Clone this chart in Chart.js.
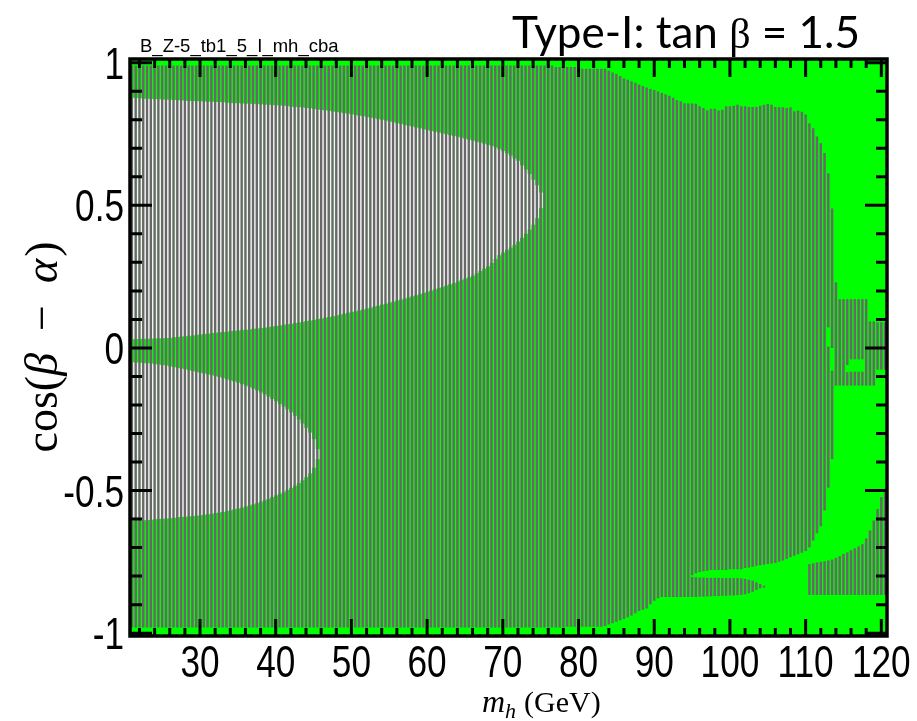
<!DOCTYPE html>
<html>
<head>
<meta charset="utf-8">
<script src="https://cdn.jsdelivr.net/npm/chart.js@4.4.1/dist/chart.umd.min.js"></script>
<style>
  html, body { margin: 0; padding: 0; background: #fff; }
</style>
</head>
<body>
<canvas id="myChart" width="917" height="721"></canvas>
<script>
// mass points (GeV), one bin every 0.5 GeV
const massPoints = [
  21, 21.5, 22, 22.5, 23, 23.5, 24, 24.5, 25, 25.5,
  26, 26.5, 27, 27.5, 28, 28.5, 29, 29.5, 30, 30.5,
  31, 31.5, 32, 32.5, 33, 33.5, 34, 34.5, 35, 35.5,
  36, 36.5, 37, 37.5, 38, 38.5, 39, 39.5, 40, 40.5,
  41, 41.5, 42, 42.5, 43, 43.5, 44, 44.5, 45, 45.5,
  46, 46.5, 47, 47.5, 48, 48.5, 49, 49.5, 50, 50.5,
  51, 51.5, 52, 52.5, 53, 53.5, 54, 54.5, 55, 55.5,
  56, 56.5, 57, 57.5, 58, 58.5, 59, 59.5, 60, 60.5,
  61, 61.5, 62, 62.5, 63, 63.5, 64, 64.5, 65, 65.5,
  66, 66.5, 67, 67.5, 68, 68.5, 69, 69.5, 70, 70.5,
  71, 71.5, 72, 72.5, 73, 73.5, 74, 74.5, 75, 75.5,
  76, 76.5, 77, 77.5, 78, 78.5, 79, 79.5, 80, 80.5,
  81, 81.5, 82, 82.5, 83, 83.5, 84, 84.5, 85, 85.5,
  86, 86.5, 87, 87.5, 88, 88.5, 89, 89.5, 90, 90.5,
  91, 91.5, 92, 92.5, 93, 93.5, 94, 94.5, 95, 95.5,
  96, 96.5, 97, 97.5, 98, 98.5, 99, 99.5, 100, 100.5,
  101, 101.5, 102, 102.5, 103, 103.5, 104, 104.5, 105, 105.5,
  106, 106.5, 107, 107.5, 108, 108.5, 109, 109.5, 110, 110.5,
  111, 111.5, 112, 112.5, 113, 113.5, 114, 114.5, 115, 115.5,
  116, 116.5, 117, 117.5, 118, 118.5, 119, 119.5, 120, 120.5
];

// main grey band: upper and lower edge of cos(beta-alpha) per mass bin
const grayTop = [
  .99, .99, .99, .99, .99, .99, .99, .99, .99, .99,
  .99, .99, .99, .99, .99, .99, .99, .99, .99, .99,
  .99, .99, .99, .99, .99, .99, .99, .99, .99, .99,
  .99, .99, .99, .99, .99, .99, .99, .99, .99, .99,
  .99, .99, .99, .99, .99, .99, .99, .99, .99, .99,
  .99, .99, .99, .99, .99, .99, .99, .99, .99, .99,
  .99, .99, .99, .99, .99, .99, .99, .99, .99, .99,
  .99, .99, .99, .99, .99, .99, .99, .99, .99, .99,
  .99, .99, .99, .99, .99, .99, .99, .99, .99, .99,
  .99, .99, .99, .99, .99, .99, .99, .99, .99, .99,
  .99, .99, .99, .99, .99, .99, .99, .99, .99, .99,
  .99, .99, .985, .985, .985, .985, .985, .985, .979, .979,
  .979, .979, .979, .979, .979, .979, .972, .966, .96, .953,
  .945, .94, .935, .93, .924, .918, .913, .908, .904, .899,
  .894, .889, .884, .877, .869, .865, .858, .857, .857, .856,
  .847, .841, .833, .839, .839, .832, .835, .847, .847, .849,
  .853, .847, .847, .845, .845, .845, .849, .853, .855, .853,
  .845, .844, .844, .841, .844, .83, .832, .828, .818, .788,
  .77, .741, .718, .683, .612, .489, .23, .171, .171, .171,
  .171, .171, .171, .171, .171, .093, .093, .09, .09, .09
];
const grayBottom = [
  -.98, -.98, -.98, -.98, -.98, -.98, -.98, -.98, -.98, -.98,
  -.98, -.98, -.98, -.98, -.98, -.98, -.98, -.98, -.98, -.98,
  -.98, -.98, -.98, -.98, -.98, -.98, -.98, -.98, -.98, -.98,
  -.98, -.98, -.98, -.98, -.98, -.98, -.98, -.98, -.98, -.98,
  -.98, -.98, -.98, -.98, -.98, -.98, -.98, -.98, -.98, -.98,
  -.98, -.98, -.98, -.98, -.98, -.98, -.98, -.98, -.98, -.98,
  -.98, -.98, -.98, -.98, -.98, -.98, -.98, -.98, -.98, -.98,
  -.98, -.98, -.98, -.98, -.98, -.98, -.98, -.98, -.98, -.98,
  -.98, -.98, -.98, -.98, -.98, -.98, -.98, -.98, -.98, -.98,
  -.98, -.98, -.98, -.98, -.98, -.98, -.98, -.98, -.98, -.98,
  -.98, -.98, -.98, -.98, -.98, -.98, -.98, -.98, -.98, -.98,
  -.98, -.98, -.98, -.98, -.98, -.978, -.978, -.978, -.978, -.978,
  -.978, -.978, -.978, -.978, -.978, -.975, -.97, -.965, -.96, -.955,
  -.95, -.944, -.938, -.93, -.922, -.918, -.914, -.899, -.886, -.878,
  -.873, -.873, -.873, -.873, -.873, -.873, -.873, -.873, -.797, -.79,
  -.786, -.783, -.781, -.779, -.779, -.779, -.779, -.779, -.776, -.776,
  -.776, -.776, -.772, -.77, -.767, -.764, -.762, -.76, -.758, -.756,
  -.754, -.75, -.745, -.74, -.734, -.729, -.723, -.718, -.712, -.70,
  -.675, -.65, -.625, -.57, .072, 0, -.132, -.132, -.132, -.06,
  -.04, -.04, -.04, -.04, -.132, -.132, -.132, -.076, -.076, -.076
];

// grey pieces split off the main band
const splitMass = [95, 95.5, 96, 96.5, 97, 97.5, 98, 98.5, 99, 99.5,
  100, 100.5, 101, 101.5, 102, 102.5, 103, 103.5, 104, 104.5,
  113, 113.5, 115.5, 116, 116.5, 117, 117.5];
const splitLo = [-.873, -.873, -.872, -.872, -.871, -.871, -.87, -.87, -.869, -.869,
  -.868, -.868, -.867, -.866, -.864, -.86, -.855, -.848, -.843, -.84,
  -.49, -.39, -.132, -.132, -.132, -.132, -.132];
const splitHi = [-.803, -.804, -.805, -.805, -.806, -.806, -.806, -.806, -.807, -.807,
  -.807, -.807, -.807, -.808, -.81, -.813, -.816, -.822, -.828, -.834,
  .005, -.08, -.085, -.083, -.083, -.083, -.083];

// grey block in the lower right corner
const lowMass = [110.5, 111, 111.5, 112, 112.5, 113, 113.5, 114, 114.5, 115,
  115.5, 116, 116.5, 117, 117.5, 118, 118.5, 119, 119.5, 120, 120.5];
const lowTop = [-.758, -.755, -.752, -.75, -.748, -.745, -.742, -.736, -.73, -.722,
  -.717, -.709, -.703, -.696, -.688, -.668, -.64, -.605, -.565, -.523, -.5];
const lowBottom = [-.866, -.866, -.866, -.866, -.866, -.866, -.866, -.866, -.866, -.866,
  -.866, -.866, -.866, -.866, -.866, -.866, -.866, -.866, -.866, -.866, -.866];

// regions without green (first bins of massPoints)
const whiteUpHi = [
  .877, .876, .875, .874, .874, .873, .872, .872, .871, .870,
  .870, .869, .868, .868, .867, .866, .866, .865, .865, .864,
  .863, .863, .862, .862, .861, .860, .859, .858, .858, .857,
  .856, .856, .855, .854, .854, .853, .853, .852, .851, .850,
  .849, .848, .846, .845, .844, .843, .841, .840, .838, .836,
  .834, .833, .831, .829, .827, .825, .823, .821, .819, .817,
  .814, .812, .810, .807, .805, .802, .800, .797, .794, .791,
  .788, .785, .782, .779, .776, .773, .770, .767, .764, .761,
  .758, .755, .752, .749, .746, .743, .740, .737, .733, .730,
  .727, .723, .720, .716, .712, .708, .703, .697, .690, .682,
  .674, .664, .656, .640, .625, .610, .590, .570, .545
];
const whiteUpLo = [
  .030, .031, .031, .032, .032, .033, .033, .034, .034, .035,
  .035, .037, .038, .040, .041, .043, .044, .046, .047, .049,
  .050, .052, .053, .055, .056, .057, .059, .060, .061, .063,
  .064, .065, .067, .068, .070, .071, .073, .075, .077, .079,
  .081, .083, .085, .087, .089, .091, .094, .096, .098, .101,
  .103, .106, .108, .111, .114, .117, .120, .123, .126, .129,
  .132, .135, .138, .141, .145, .148, .152, .155, .159, .162,
  .166, .170, .173, .177, .181, .185, .189, .193, .197, .201,
  .206, .210, .214, .219, .223, .228, .233, .238, .243, .248,
  .254, .262, .270, .278, .286, .298, .312, .325, .335, .344,
  .352, .362, .373, .386, .400, .415, .432, .455, .490
];
const whiteDnHi = [
  -.050, -.051, -.052, -.053, -.054, -.055, -.057, -.058, -.060, -.062,
  -.065, -.067, -.070, -.072, -.075, -.078, -.081, -.084, -.087, -.090,
  -.093, -.096, -.099, -.102, -.106, -.110, -.114, -.118, -.122, -.127,
  -.132, -.137, -.143, -.149, -.156, -.163, -.171, -.179, -.187, -.196,
  -.205, -.215, -.226, -.238, -.251, -.265, -.280, -.297, -.320, -.355
];
const whiteDnLo = [
  -.605, -.605, -.604, -.604, -.603, -.602, -.601, -.600, -.599, -.598,
  -.597, -.596, -.594, -.593, -.592, -.590, -.589, -.588, -.587, -.585,
  -.583, -.581, -.579, -.577, -.575, -.572, -.569, -.566, -.563, -.560,
  -.556, -.552, -.548, -.544, -.539, -.534, -.529, -.523, -.517, -.511,
  -.505, -.498, -.491, -.483, -.474, -.464, -.453, -.440, -.420, -.390
];

const xTicks = [30, 40, 50, 60, 70, 80, 90, 100, 110, 120];
const xTickLabels = ["30", "40", "50", "60", "70", "80", "90", "100", "110", "120"];
const yTicks = [-1, -0.5, 0, 0.5, 1];
const yTickLabels = ["-1", "-0.5", "0", "0.5", "1"];

const GRAY = "#686868";
const GREEN = "#00ff00";

function bars(xs, lo, hi) {
  const out = [];
  for (let i = 0; i < lo.length; i++) out.push({ x: xs[i], y: [lo[i], hi[i]] });
  return out;
}

const greenArea = {
  id: "greenArea",
  beforeDraw(chart) {
    const ctx = chart.ctx;
    ctx.save();
    ctx.fillStyle = "#fff";
    ctx.fillRect(0, 0, chart.width, chart.height);
    ctx.restore();
  },
  beforeDatasetsDraw(chart) {
    const { ctx, chartArea: a } = chart;
    ctx.save();
    ctx.fillStyle = GREEN;
    ctx.fillRect(a.left, a.top, a.right - a.left, a.bottom - a.top);
    ctx.restore();
  }
};

// ROOT-style frame with inward ticks on all four sides, plus condensed tick labels
const frameTicks = {
  id: "frameTicks",
  afterDatasetsDraw(chart) {
    const { ctx, chartArea: a, scales } = chart;
    const x = scales.x, y = scales.y;
    ctx.save();
    ctx.strokeStyle = "#000";
    ctx.lineWidth = 3;
    ctx.beginPath();
    for (let v = 22; v <= 120; v += 2) {
      const px = x.getPixelForValue(v);
      const major = v % 10 === 0;
      ctx.moveTo(px, a.bottom); ctx.lineTo(px, a.bottom - (major ? 17 : 8));
      ctx.moveTo(px, a.top); ctx.lineTo(px, a.top + (major ? 18 : 9));
    }
    for (let i = -10; i <= 10; i++) {
      const py = y.getPixelForValue(i / 10);
      const major = i % 5 === 0;
      ctx.moveTo(a.left, py); ctx.lineTo(a.left + (major ? 22 : 12), py);
      ctx.moveTo(a.right, py); ctx.lineTo(a.right - (major ? 22 : 11), py);
    }
    ctx.stroke();
    ctx.lineWidth = 3.5;
    ctx.strokeRect(a.left, a.top, a.right - a.left, a.bottom - a.top);

    ctx.fillStyle = "#000";
    ctx.font = "44px 'Liberation Sans'";
    ctx.textBaseline = "alphabetic";
    xTicks.forEach((v, i) => {
      ctx.save();
      ctx.translate(x.getPixelForValue(v), 677);
      ctx.scale(0.8, 1);
      ctx.textAlign = "center";
      ctx.fillText(xTickLabels[i], 0, 0);
      ctx.restore();
    });
    yTicks.forEach((v, i) => {
      ctx.save();
      ctx.translate(124, y.getPixelForValue(v) + 16);
      ctx.scale(0.8, 1);
      ctx.textAlign = "right";
      ctx.fillText(yTickLabels[i], 0, 0);
      ctx.restore();
    });
    ctx.restore();
  }
};

const texts = {
  id: "texts",
  afterDraw(chart) {
    const ctx = chart.ctx;
    ctx.save();
    ctx.fillStyle = "#000";
    ctx.textBaseline = "alphabetic";

    // title
    ctx.font = "44px Lato";
    let tx = 512;
    ctx.fillText("Type-I: tan ", tx, 48);
    tx += ctx.measureText("Type-I: tan ").width;
    ctx.font = "42px 'Liberation Serif'";
    ctx.fillText("\u03b2", tx, 48);
    tx += ctx.measureText("\u03b2").width;
    ctx.font = "44px Lato";
    ctx.fillText(" = 1.5", tx, 48);

    // histogram name
    ctx.font = "18.5px 'Liberation Sans'";
    ctx.fillText("B_Z-5_tb1_5_I_mh_cba", 140, 52);

    // x title
    ctx.font = "italic 32px 'Liberation Serif'";
    let xx = 482;
    ctx.fillText("m", xx, 712);
    xx += ctx.measureText("m").width;
    ctx.font = "italic 22px 'Liberation Serif'";
    ctx.fillText("h", xx, 718);
    xx += ctx.measureText("h").width + 8;
    ctx.font = "30px 'Liberation Serif'";
    ctx.fillText("(GeV)", xx, 712);

    // y title, rotated
    ctx.translate(57, 347);
    ctx.rotate(-Math.PI / 2);
    const parts = [
      ["cos(", "46px 'Liberation Serif'", 0],
      ["\u03b2", "italic 46px 'Liberation Serif'", 22],
      ["\u2212", "46px 'Liberation Serif'", 22],
      ["\u03b1", "italic 46px 'Liberation Serif'", 2],
      [")", "46px 'Liberation Serif'", 0]
    ];
    let w = 0;
    parts.forEach(p => { ctx.font = p[1]; w += ctx.measureText(p[0]).width + p[2]; });
    let px = -w / 2;
    parts.forEach(p => { ctx.font = p[1]; ctx.fillText(p[0], px, 0); px += ctx.measureText(p[0]).width + p[2]; });
    ctx.restore();
  }
};

new Chart("myChart", {
  type: "bar",
  data: {
    datasets: [
      { label: "main", data: bars(massPoints, grayBottom, grayTop), backgroundColor: GRAY, barPercentage: 0.64, categoryPercentage: 1, order: 1 },
      { label: "split", data: bars(splitMass, splitLo, splitHi), backgroundColor: GRAY, barPercentage: 0.64, categoryPercentage: 1, order: 1 },
      { label: "low", data: bars(lowMass, lowBottom, lowTop), backgroundColor: GRAY, barPercentage: 0.64, categoryPercentage: 1, order: 1 },
      { label: "noGreenUp", data: bars(massPoints, whiteUpLo, whiteUpHi), backgroundColor: "#fff", barPercentage: 1.08, categoryPercentage: 1, order: 2 },
      { label: "noGreenDown", data: bars(massPoints, whiteDnLo, whiteDnHi), backgroundColor: "#fff", barPercentage: 1.08, categoryPercentage: 1, order: 2 }
    ]
  },
  options: {
    responsive: false,
    animation: false,
    events: [],
    datasets: { bar: { grouped: false, borderWidth: 0 } },
    layout: { padding: { top: 59, right: 30, left: 0, bottom: 0 } },
    plugins: { legend: { display: false }, tooltip: { enabled: false } },
    scales: {
      x: {
        type: "linear", min: 20.75, max: 120.75, offset: false,
        grid: { display: false, drawTicks: false }, border: { display: false },
        afterBuildTicks: s => { s.ticks = xTicks.map(v => ({ value: v })); },
        afterFit: s => { s.height = 85; },
        ticks: { display: false }
      },
      y: {
        min: -1.01, max: 1.013,
        grid: { display: false, drawTicks: false }, border: { display: false },
        afterBuildTicks: s => { s.ticks = yTicks.map(v => ({ value: v })); },
        afterFit: s => { s.width = 130; },
        ticks: { display: false }
      }
    }
  },
  plugins: [greenArea, frameTicks, texts]
});
</script>
</body>
</html>
